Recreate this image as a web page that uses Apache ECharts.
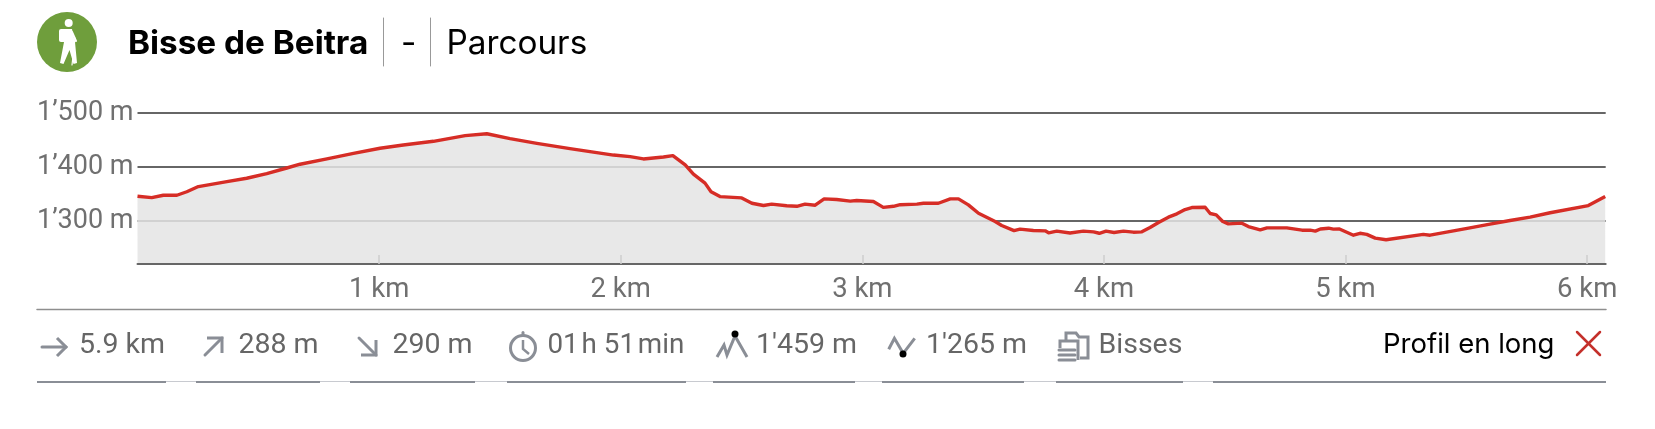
<!DOCTYPE html>
<html><head><meta charset="utf-8">
<style>html,body{margin:0;padding:0;background:#fff}#c{width:1655px;height:429px}</style>
<script src="https://cdn.jsdelivr.net/npm/echarts@6/dist/echarts.min.js"></script>
</head><body><div id="c"></div>
<script>
const distanceKm = [0,.059,.107,.163,.204,.252,.37,.452,.535,.618,.673,.784,.894,1.004,1.1,1.225,1.356,1.446,1.542,1.653,1.79,1.97,2.039,2.094,2.177,2.216,2.267,2.301,2.349,2.374,2.411,2.501,2.543,2.591,2.625,2.687,2.729,2.763,2.805,2.842,2.894,2.95,2.977,3.046,3.087,3.129,3.157,3.226,3.253,3.315,3.364,3.398,3.439,3.481,3.55,3.577,3.628,3.653,3.708,3.757,3.771,3.805,3.86,3.915,3.957,3.981,4.009,4.042,4.081,4.122,4.157,4.191,4.226,4.267,4.302,4.336,4.364,4.419,4.44,4.465,4.492,4.515,4.571,4.598,4.647,4.675,4.757,4.82,4.854,4.875,4.896,4.93,4.95,4.975,5.033,5.06,5.088,5.123,5.168,5.322,5.35,5.515,5.598,5.681,5.764,5.847,6.005,6.075];
const elevationM = [1345.7,1343,1347.5,1347.5,1354,1363.6,1372.8,1379,1387.6,1398,1405,1414.8,1425,1434.6,1440.7,1447.5,1458,1461.5,1452.5,1443.8,1434,1422,1419,1414.8,1418.5,1421,1404,1386.5,1370,1354,1345,1342.6,1332.7,1328.4,1331,1328,1327,1331,1329,1340.7,1339.5,1336.5,1337.7,1335.8,1325,1327,1330,1331,1332.7,1332.7,1340.7,1340.7,1329.6,1314,1298.8,1291.4,1282,1284.6,1282,1281.5,1277.8,1281,1277.5,1281,1279.6,1277,1281,1278.5,1281,1279,1279.6,1287.6,1297,1306.8,1313,1321,1324.7,1325.3,1313.6,1311,1298.8,1294.4,1295.7,1289.5,1283.3,1287,1287,1282.7,1282.7,1281,1285,1286.4,1284.6,1285,1273.4,1277,1275,1268,1265,1275,1273.4,1287,1293.8,1300.6,1306.8,1315,1328.3,1345];
const elevationTicks = [1300,1400,1500];
const distanceTicks = [1,2,3,4,5,6];
const routeName = 'Bisse de Beitra';
const routeMode = 'Parcours';
const statLabels = ['5.9 km','288 m','290 m','01\u200Ah 51\u200Amin',"1'459 m","1'265 m",'Bisses'];
const profileLabel = 'Profil en long';

const GREY='#8a8e96', TXT='#666666', F='Roboto', H='Inter', SZ=28.5;
const text=(t,x,y,size,fill,family,weight,align)=>({type:'text',silent:true,style:{text:t,x,y,fill,align:align||'left',verticalAlign:'middle',font:`${weight||400} ${size}px ${family}`}});
const line=(x1,y1,x2,y2,stroke,w)=>({type:'line',silent:true,shape:{x1,y1,x2,y2},style:{stroke,lineWidth:w,lineCap:'round'}});
const poly=(points,stroke,w)=>({type:'polyline',silent:true,shape:{points},style:{stroke,lineWidth:w,fill:null,lineJoin:'miter'}});
const fillPoly=(points,fill)=>({type:'polygon',silent:true,shape:{points},style:{fill}});
const circ=(cx,cy,r,style)=>({type:'circle',silent:true,shape:{cx,cy,r},style});

const gfx=[
  circ(67,42,30,{fill:'#6f9e3c'}),
  circ(68.7,23,4,{fill:'#fff'}),
  {type:'rect',silent:true,shape:{x:59,y:29,width:8,height:13,r:2},style:{fill:'#fff'}},
  fillPoly([[65,29],[72,29],[75,43],[64,43]],'#fff'),
  fillPoly([[64,42],[75,42],[77,63],[73.5,64],[69.5,50],[63.5,64],[60,63]],'#fff'),
  line(72,32,76,41,'#fff',2),
  line(75,38,72,65,'#fff',1.2),
  text(routeName,128,44,33.3,'#000',H,700),
  line(383.5,18,383.5,66,'#999',1),
  text('-',401,44,33.3,'#000',H,400),
  line(430.5,18,430.5,66,'#999',1),
  text(routeMode,446.5,44,33.3,'#000',H,400),
  line(37,309.5,1606,309.5,'#8e8e8e',1.5),
  // stats row
  line(42,347,66,347,GREY,3), poly([[57,338],[66,347],[57,356]],GREY,3),
  text(statLabels[0],79,346,SZ,TXT,F),
  line(205,355,222,338,GREY,3), poly([[207,338],[222,338],[222,353]],GREY,3),
  text(statLabels[1],238.5,346,SZ,TXT,F),
  line(359,338,376,355,GREY,3), poly([[361,355],[376,355],[376,340]],GREY,3),
  text(statLabels[2],392.5,346,SZ,TXT,F),
  circ(523,348,12.5,{fill:null,stroke:GREY,lineWidth:3}),
  line(523,332.5,523,335,GREY,3),
  poly([[523,340],[523,349],[529,354]],GREY,2.5),
  text(statLabels[3],547.5,346,27.8,TXT,F),
  poly([[717,357],[724,345],[727,355],[735,336],[747,357]],GREY,3),
  circ(735,334,3.5,{fill:'#000'}),
  text(statLabels[4],756,346,SZ,TXT,F),
  poly([[888.7,349.3],[894.4,338.3],[903.2,353.3],[914.7,338.3]],GREY,3),
  circ(903,354,3.5,{fill:'#000'}),
  text(statLabels[5],926,346,SZ,TXT,F),
  poly([[1066,340],[1066,333],[1076,333],[1079,337],[1088,337],[1088,358],[1080,358]],GREY,3),
  poly([[1060,348],[1060,341],[1078,341],[1078,360]],GREY,3),
  line(1059,350,1075,350,GREY,3),line(1059,355,1075,355,GREY,3),line(1059,360,1075,360,GREY,3),
  text(statLabels[6],1098.5,346,SZ,TXT,F),
  text(profileLabel,1383,345,27.5,'#000',H),
  line(1577,332,1600,355,'#c4302b',2.5),line(1600,332,1577,355,'#c4302b',2.5),
  // bottom rule with thin gaps
  ...[[37,166],[196,320],[350,475],[507,686],[713,855],[882,1024],[1056,1183],[1213,1606]].map(s=>({type:'rect',silent:true,shape:{x:s[0],y:381,width:s[1]-s[0],height:2},style:{fill:GREY}})),
  ...[[166,196],[320,350],[475,507],[686,713],[855,882],[1024,1056],[1183,1213]].map(s=>({type:'rect',silent:true,shape:{x:s[0],y:381,width:s[1]-s[0],height:1},style:{fill:'#c8cad0'}}))
];

const chart=echarts.init(document.getElementById('c'),null,{renderer:'canvas'});
chart.setOption({
  animation:false,
  backgroundColor:'#fff',
  grid:{left:137.5,right:49.3,top:113,bottom:165,containLabel:false},
  xAxis:{type:'value',min:0,max:6.077,z:3,
    axisLine:{show:true,onZero:false,lineStyle:{color:'#666',width:2}},
    axisTick:{show:true,inside:true,length:9,customValues:distanceTicks,lineStyle:{color:'#cdcdcd',width:1.5}},
    axisLabel:{customValues:distanceTicks,margin:12,fontFamily:F,fontSize:27.5,color:'#707070',hideOverlap:false,formatter:v=>v+' km'},
    splitLine:{show:false}},
  yAxis:{type:'value',min:1220,max:1500,
    axisLine:{show:false},
    axisTick:{show:false,customValues:elevationTicks},
    axisLabel:{customValues:elevationTicks,margin:4,fontFamily:F,fontSize:27,color:'#707070',formatter:v=>String(v).replace(/^(\d)(\d{3})$/,'$1\u2019$2')+' m'},
    splitLine:{show:true,lineStyle:{color:'#666',width:2}}},
  series:[{type:'line',data:distanceKm.map((d,i)=>[d,elevationM[i]]),showSymbol:false,symbol:'none',smooth:false,clip:true,
    lineStyle:{color:'#d62d26',width:3.4,join:'round'},
    areaStyle:{color:'#e4e4e4',opacity:.85,origin:'start'}}],
  graphic:gfx
});
</script></body></html>
